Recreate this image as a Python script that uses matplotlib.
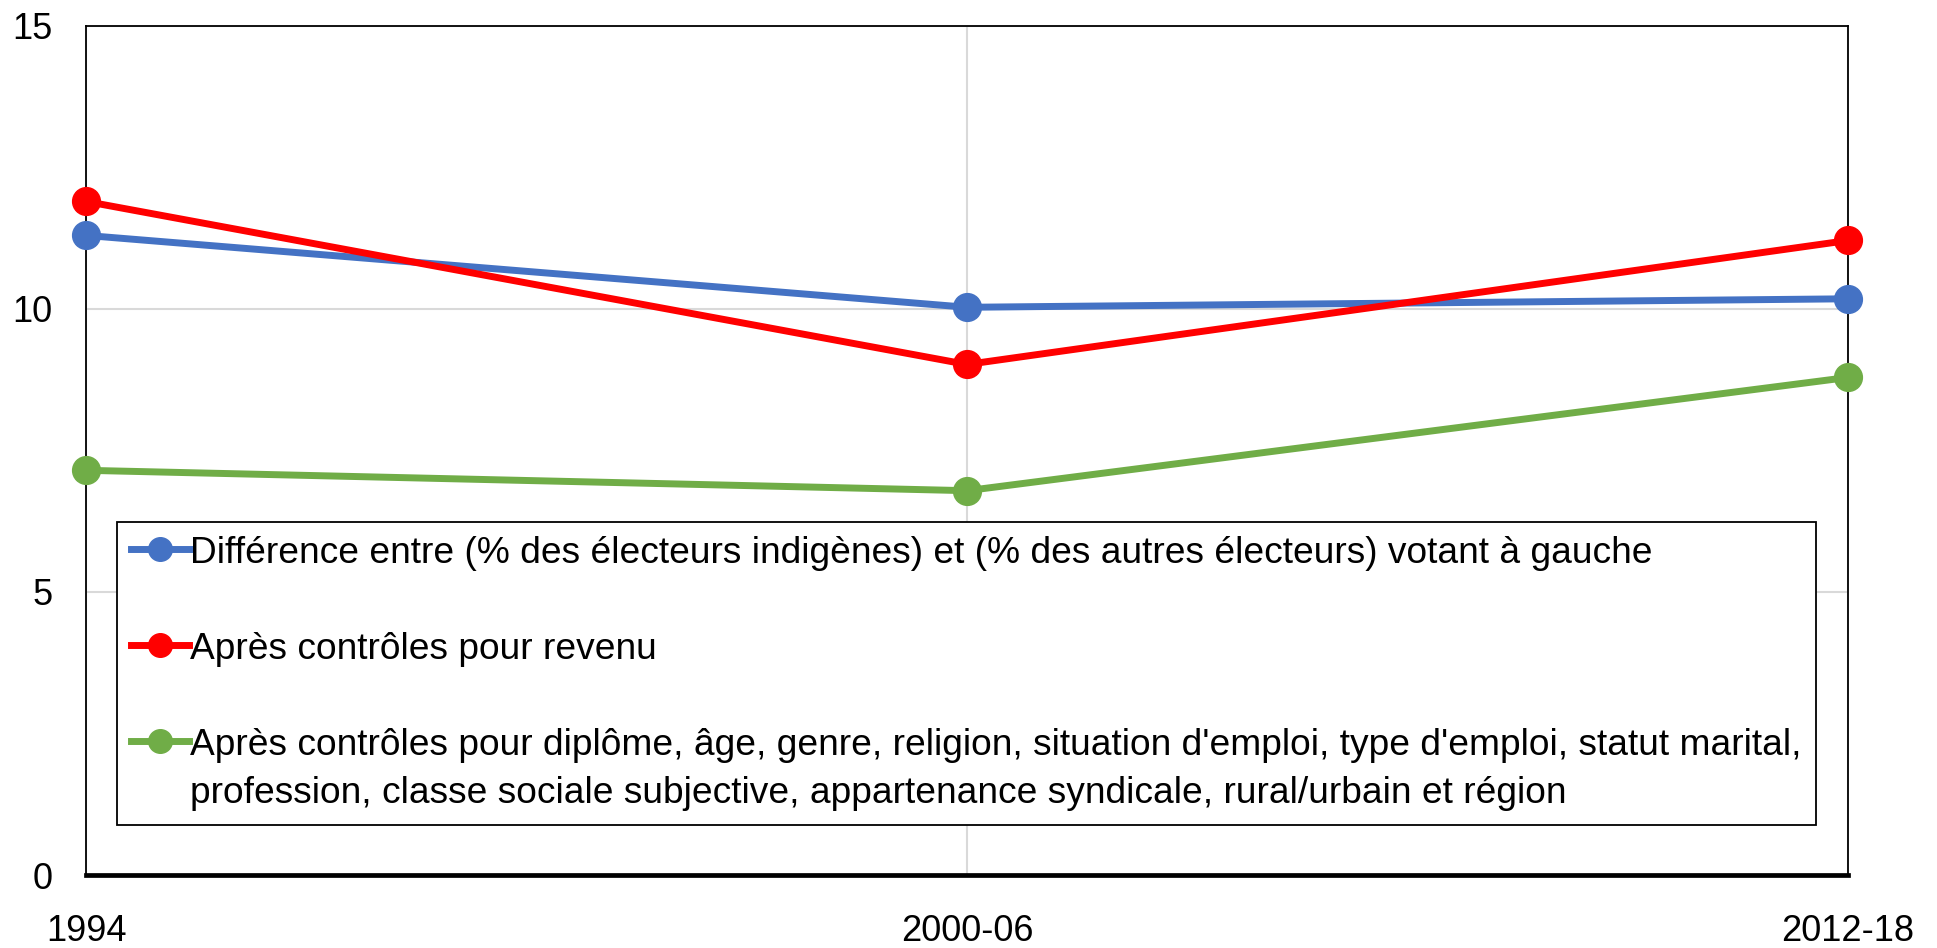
import matplotlib
matplotlib.use("Agg")
import matplotlib.pyplot as plt

# données ---------------------------
periodes = ["1994", "2000-06", "2012-18"]
ecart_brut = [11.3, 10.03, 10.18]
ecart_revenu = [11.9, 9.02, 11.21]
ecart_controles = [7.15, 6.79, 8.79]

labels = [
    "Différence entre (% des électeurs indigènes) et (% des autres électeurs) votant à gauche",
    "Après contrôles pour revenu",
    "Après contrôles pour diplôme, âge, genre, religion, situation d'emploi, type d'emploi, statut marital,\n"
    "profession, classe sociale subjective, appartenance syndicale, rural/urbain et région",
]
couleurs = ["#4472C4", "#FF0000", "#70AD47"]

# graphique -------------------------
plt.rcParams['font.family'] = ['Liberation Sans', 'DejaVu Sans']
plt.rcParams['font.size'] = 26

fig = plt.figure(figsize=(19.37, 9.48), dpi=100)
ax = fig.add_axes([0.0444, 0.077, 0.9096, 0.8956])

x = range(len(periodes))
for serie, lab, c in zip([ecart_brut, ecart_revenu, ecart_controles], labels, couleurs):
    ax.plot(x, serie, color=c, lw=5, marker='o', ms=20, label=lab,
            clip_on=False, zorder=3)

ax.set_xlim(0, 2)
ax.set_ylim(0, 15)
ax.set_xticks(list(x))
ax.set_xticklabels(periodes)
ax.set_yticks([0, 5, 10, 15])
ax.tick_params(axis='both', length=0)
ax.tick_params(axis='x', pad=28)
ax.tick_params(axis='y', pad=24)
ax.grid(True, color='#d9d9d9', lw=1.5, zorder=0)
ax.set_axisbelow(True)

for s in ['left', 'right', 'top']:
    ax.spines[s].set_linewidth(1.3)
    ax.spines[s].set_color('black')
ax.spines['bottom'].set_linewidth(3.4)

leg = ax.legend(loc='upper left', bbox_to_anchor=(0.0176, 0.4158), borderaxespad=0,
                frameon=True, fancybox=False, edgecolor='black', framealpha=1,
                handlelength=1.55, handletextpad=0.05, labelspacing=1.65,
                borderpad=0.38, markerscale=0.85, fontsize=26.7)
leg.get_frame().set_linewidth(1.3)
for t in leg.get_texts():
    t.set_linespacing(1.45)
# aligner le repère de la 3e entrée sur sa première ligne (comme Excel)
for col in leg._legend_handle_box.get_children():
    for entry in col.get_children():
        entry.align = "top"

fig.savefig("out.png", dpi=100)
